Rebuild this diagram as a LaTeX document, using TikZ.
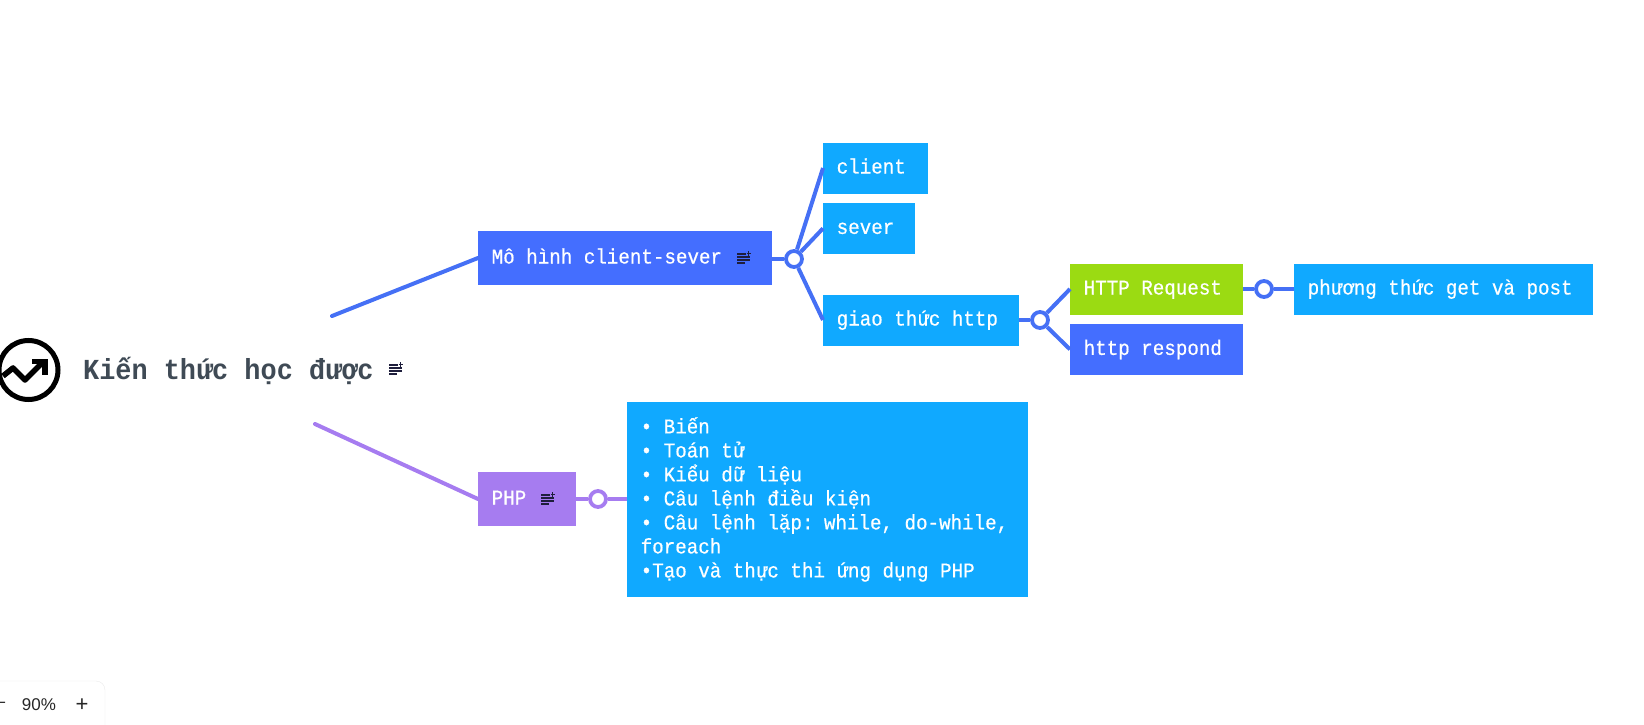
\documentclass[tikz,border=0pt]{standalone}
\usepackage{fontspec}
\newfontfamily\boxfont{Liberation Mono}[FakeStretch=0.914,FakeBold=0.5]
\newfontfamily\rootfont{Liberation Mono Bold}[FakeStretch=0.927]
\setsansfont{Liberation Sans}
\usetikzlibrary{positioning}
\definecolor{linkblue}{HTML}{4570F5}
\definecolor{deepblue}{HTML}{446EFF}
\definecolor{skyblue}{HTML}{10A9FF}
\definecolor{limegreen}{HTML}{9BDB12}
\definecolor{lilac}{HTML}{A67CF0}
\definecolor{inkgrey}{HTML}{3F4A55}
\definecolor{iconink}{HTML}{1E1E3C}
\tikzset{box node/.style={text=white,font=\boxfont\fontsize{21}{24}\selectfont,inner xsep=13.5pt,inner ysep=0pt,
                minimum height=51pt,align=left,anchor=west,execute at begin node={\spaceskip=\fontdimen2\font\relax}},
            one line/.style={text height=15pt,text depth=4pt},
            sky node/.style={box node,one line,fill=skyblue},
            deep node/.style={box node,one line,fill=deepblue},
            joint node/.style={circle,draw,fill=white,line width=3.8pt,minimum size=16pt,inner sep=0pt},
            notes icon/.pic={
                \draw[line width=1.3pt] (0,2) -- (9,2) (0,5) -- (13,5) (0,8) -- (13,8) (0,11) -- (8,11);
                \draw[line width=1.1pt] (9.5,1.5) -- (14,1.5) (11.7,-0.7) -- (11.7,3.7);
            },
            }

\begin{document}
\begin{tikzpicture}[x=1pt,y=-1pt]
    \useasboundingbox (0,0) rectangle (1644,725);

    % root
    \draw[line width=5pt] (28.5,370) circle (29.5);
    \draw[line width=5.6pt,line join=round] (3,376) -- (13,368) -- (25,380) -- (43,362);
    \draw[line width=5.6pt,line join=miter] (32,361.5) -- (45,361.5) -- (45,375);
    \node[anchor=base west,inner sep=0pt,text=inkgrey,font=\rootfont\fontsize{29}{30}\selectfont] (root) at (83,379) {Kiến thức học được};
    \pic[color=iconink] at (389,363) {notes icon};
    \coordinate (blue start) at (332,316);
    \coordinate (lilac start) at (315,424);

    % first branch
    \node[deep node,minimum height=54.5pt,text width=267pt] (model) at (478,258) {Mô hình client-sever};
    \pic[color=iconink] at (737,252) {notes icon};
    \node[sky node,text width=78pt] (client) at (823,168) {client};
    \node[sky node,text width=65pt] (sever) [below right = 9pt and 0pt of client.south west] {sever};
    \node[sky node,text width=169pt] (http) at (823,320) {giao thức http};
    \node[box node,one line,fill=limegreen,text width=146pt] (request) at (1070,289) {HTTP Request};
    \node[deep node,text width=146pt] (respond) [below right = 9pt and 0pt of request.south west] {http respond};
    \node[sky node,text width=272pt] (method) at (1294,289) {phương thức get và post};
    \node[joint node,draw=linkblue] (join a) at (794,259) {};
    \node[joint node,draw=linkblue] (join b) at (1040,320) {};
    \node[joint node,draw=linkblue] (join c) at (1264,289) {};

    % second branch
    \node[box node,fill=lilac,one line,minimum height=54.5pt,text width=71pt] (php) at (478,499) {PHP};
    \pic[color=iconink] at (541,493) {notes icon};
    \node[box node,fill=skyblue,minimum height=195pt,text width=374pt] (topics) at (627,499.5) {• Biến\\
        • Toán tử\\
        • Kiểu dữ liệu\\
        • Câu lệnh điều kiện\\
        • Câu lệnh lặp: while, do-while,\\
        foreach\\
        •Tạo và thực thi ứng dụng PHP};
    \node[joint node,draw=lilac] (join d) at (598,499) {};

    \path[draw,linkblue,line width=4pt,line cap=round]
    (blue start) edge (model.west);
    \path[draw,linkblue,line width=4pt]
    (model.east |- join a) edge (join a)
    (join a) edge (client.west)
    (join a) edge (sever.west)
    (join a) edge (http.west)
    (http.east |- join b) edge (join b)
    (join b) edge (request.west)
    (join b) edge (respond.west)
    (request.east) edge (join c)
    (join c) edge (method.west);
    \path[draw,lilac,line width=4pt,line cap=round]
    (lilac start) edge (php.west);
    \path[draw,lilac,line width=4pt]
    (php.east) edge (join d)
    (join d) edge (topics.west |- join d);

    % zoom panel
    \draw[rounded corners=9pt,draw=black!8,fill=white] (-12,681) rectangle (105,740);
    \node[font=\sffamily\fontsize{17}{20}\selectfont,text=black!85,inner sep=0pt] (minus) at (1,705) {−};
    \node[font=\sffamily\fontsize{17}{20}\selectfont,text=black!85,inner sep=0pt] (percent) at (39,705) {90\%};
    \node[font=\sffamily\fontsize{22}{24}\selectfont,text=black!85,inner sep=0pt] (plus) at (82,705) {+};
\end{tikzpicture}
\end{document}
